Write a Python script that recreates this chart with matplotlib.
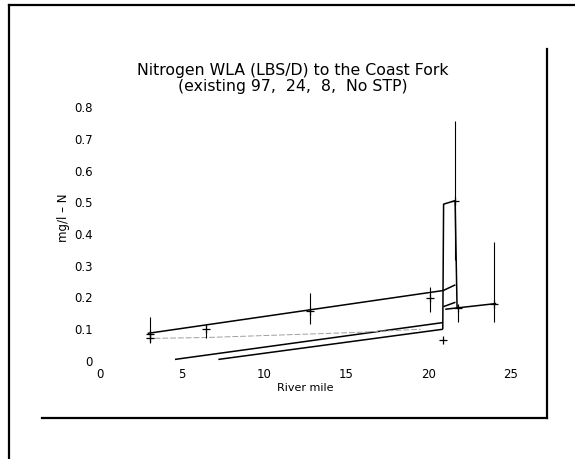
import matplotlib
matplotlib.use("Agg")
import matplotlib.pyplot as plt
from matplotlib.lines import Line2D

# ---- data (river mile, mg/l - N) ----
main_x = [2.9, 20.88]
main_y = [0.087, 0.222]

spike_x = [20.85, 20.9, 21.6, 21.72]
spike_y = [0.100, 0.494, 0.505, 0.165]

upper_seg_x = [20.88, 21.62]
upper_seg_y = [0.222, 0.240]

lower_seg_x = [20.88, 21.62]
lower_seg_y = [0.171, 0.185]

down_x = [21.0, 24.1]
down_y = [0.163, 0.181]

low1_x = [4.56, 20.86]
low1_y = [0.005, 0.121]

low2_x = [7.2, 20.86]
low2_y = [0.005, 0.100]

gray_x = [2.85, 6.5, 15.6, 19.5]
gray_y = [0.071, 0.074, 0.090, 0.100]

obs_x = [3.05, 3.05, 6.45, 12.77, 20.07, 20.88, 21.6, 21.75, 23.97]
obs_y = [0.084, 0.071, 0.100, 0.157, 0.197, 0.066, 0.504, 0.166, 0.180]
obs_lo = [0.057, 0.071, 0.072, 0.117, 0.155, 0.066, 0.318, 0.123, 0.124]
obs_hi = [0.140, 0.071, 0.113, 0.213, 0.234, 0.066, 0.755, 0.166, 0.376]

xticks = [0, 5, 10, 15, 20, 25]
yticks = [0, 0.1, 0.2, 0.3, 0.4, 0.5, 0.6, 0.7, 0.8]
ytick_labels = ["0", "0.1", "0.2", "0.3", "0.4", "0.5", "0.6", "0.7", "0.8"]

title = "Nitrogen WLA (LBS/D) to the Coast Fork\n(existing 97,  24,  8,  No STP)"

W, H = 575, 459
fig = plt.figure(figsize=(W / 100, H / 100), dpi=100)
fig.patch.set_facecolor("white")

ax = fig.add_axes([100 / W, 1 - 361 / H, (511 - 100) / W, (361 - 107) / H])
ax.set_xlim(0, 25)
ax.set_ylim(0, 0.8)
for s in ax.spines.values():
    s.set_visible(False)
ax.set_facecolor("none")

lk = dict(color="black", lw=1.1, clip_on=False, solid_capstyle="butt")
ax.plot(main_x, main_y, **lk)
ax.plot(spike_x, spike_y, **lk)
ax.plot(upper_seg_x, upper_seg_y, **lk)
ax.plot(lower_seg_x, lower_seg_y, **lk)
ax.plot(down_x, down_y, **lk)
ax.plot(low1_x, low1_y, **lk)
ax.plot(low2_x, low2_y, **lk)
ax.plot(gray_x, gray_y, color="#a0a0a0", lw=0.7, ls=(0, (6, 2)), clip_on=False)

yerr = [[y - lo for y, lo in zip(obs_y, obs_lo)], [hi - y for y, hi in zip(obs_y, obs_hi)]]
ax.errorbar(obs_x, obs_y, yerr=yerr, fmt="+", color="black", ms=5.5, mew=0.9,
            elinewidth=0.8, capsize=0, clip_on=False)

ax.set_xticks(xticks)
ax.set_xticklabels([str(t) for t in xticks], fontsize=8.5)
ax.set_yticks(yticks)
ax.set_yticklabels(ytick_labels, fontsize=8.5)
ax.tick_params(axis="both", length=0)
ax.tick_params(axis="x", pad=5)
ax.tick_params(axis="y", pad=5)

fig.text(305 / W, 1 - 388 / H, "River mile", ha="center", va="center", fontsize=8)
fig.text(63 / W, 1 - 218 / H, "mg/l \u2013 N", ha="center", va="center", fontsize=8.5, rotation=90)
fig.text(293 / W, 1 - 78.5 / H, title, ha="center", va="center", fontsize=11.3, linespacing=1.05)

# page frame lines
def fl(x0, y0, x1, y1, lw=1.6):
    fig.add_artist(Line2D([x0 / W, x1 / W], [1 - y0 / H, 1 - y1 / H], color="black", lw=lw,
                          transform=fig.transFigure))

fl(9, 5, 575, 5)
fl(9, 5, 9, 459)
fl(547, 49, 547, 418)
fl(42, 418, 547, 418)

fig.savefig("out.png", dpi=100, facecolor="white")
